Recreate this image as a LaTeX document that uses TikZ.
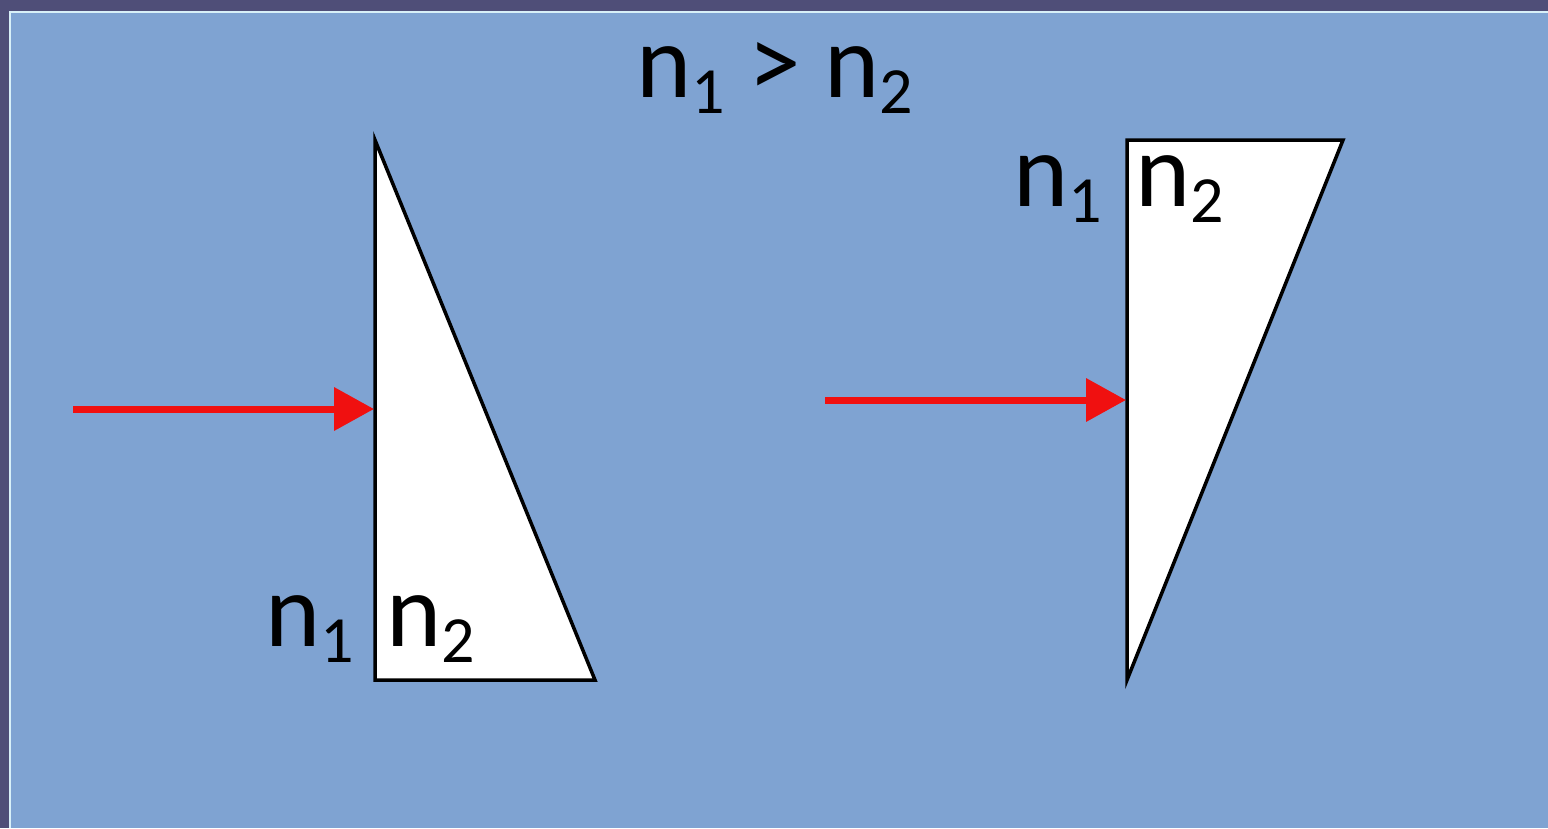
\documentclass[tikz,border=0pt]{standalone}
\usepackage{fontspec}
\setmainfont{Carlito}
\usetikzlibrary{arrows.meta}
\definecolor{bgblue}{HTML}{7FA3D2}
\definecolor{frame}{HTML}{4F4E78}
\definecolor{edge}{HTML}{D8F0F8}
\definecolor{ray}{HTML}{F01010}
\newcommand{\nsub}[1]{n\raisebox{-16pt}{\fontsize{66}{66}\selectfont #1}}
\tikzset{
  lbl/.style={anchor=base west, inner sep=0pt, font=\fontsize{105}{105}\selectfont, text=black},
  prism/.style={fill=white, draw=black, line width=3.5pt, line join=miter},
  rayarrow/.style={draw=ray, line width=7pt, -{Triangle[length=40pt,width=42pt]}, shorten >=0pt}
}
\begin{document}
\begin{tikzpicture}[x=1pt,y=-1pt]
\useasboundingbox (0,0) rectangle (1548,828);
\fill[frame] (0,0) rectangle (1548,828);
\fill[bgblue] (10,12) rectangle (1548,828);
\draw[edge, line width=2pt] (10,828) -- (10,12) -- (1548,12);
% title
\node[lbl] (title) at (636,97) {\nsub{1} > \nsub{2}};
% left prism
\coordinate (la) at (375,140);
\coordinate (lb) at (375,680);
\coordinate (lc) at (595,680);
\draw[prism] (la) -- (lb) -- (lc) -- cycle;
\node[lbl] (ln1) at (265,646) {\nsub{1}};
\node[lbl] (ln2) at (386,646) {\nsub{2}};
\coordinate (lstart) at (73,409);
\coordinate (lhit) at (374,409);
\draw[rayarrow] (lstart) -- (lhit);
% right prism
\coordinate (ra) at (1127,140);
\coordinate (rb) at (1343,140);
\coordinate (rc) at (1127,680);
\draw[prism] (ra) -- (rb) -- (rc) -- cycle;
\node[lbl] (rn1) at (1013,206) {\nsub{1}};
\node[lbl] (rn2) at (1135,206) {\nsub{2}};
\coordinate (rstart) at (825,400);
\coordinate (rhit) at (1126,400);
\draw[rayarrow] (rstart) -- (rhit);
\end{tikzpicture}
\end{document}
